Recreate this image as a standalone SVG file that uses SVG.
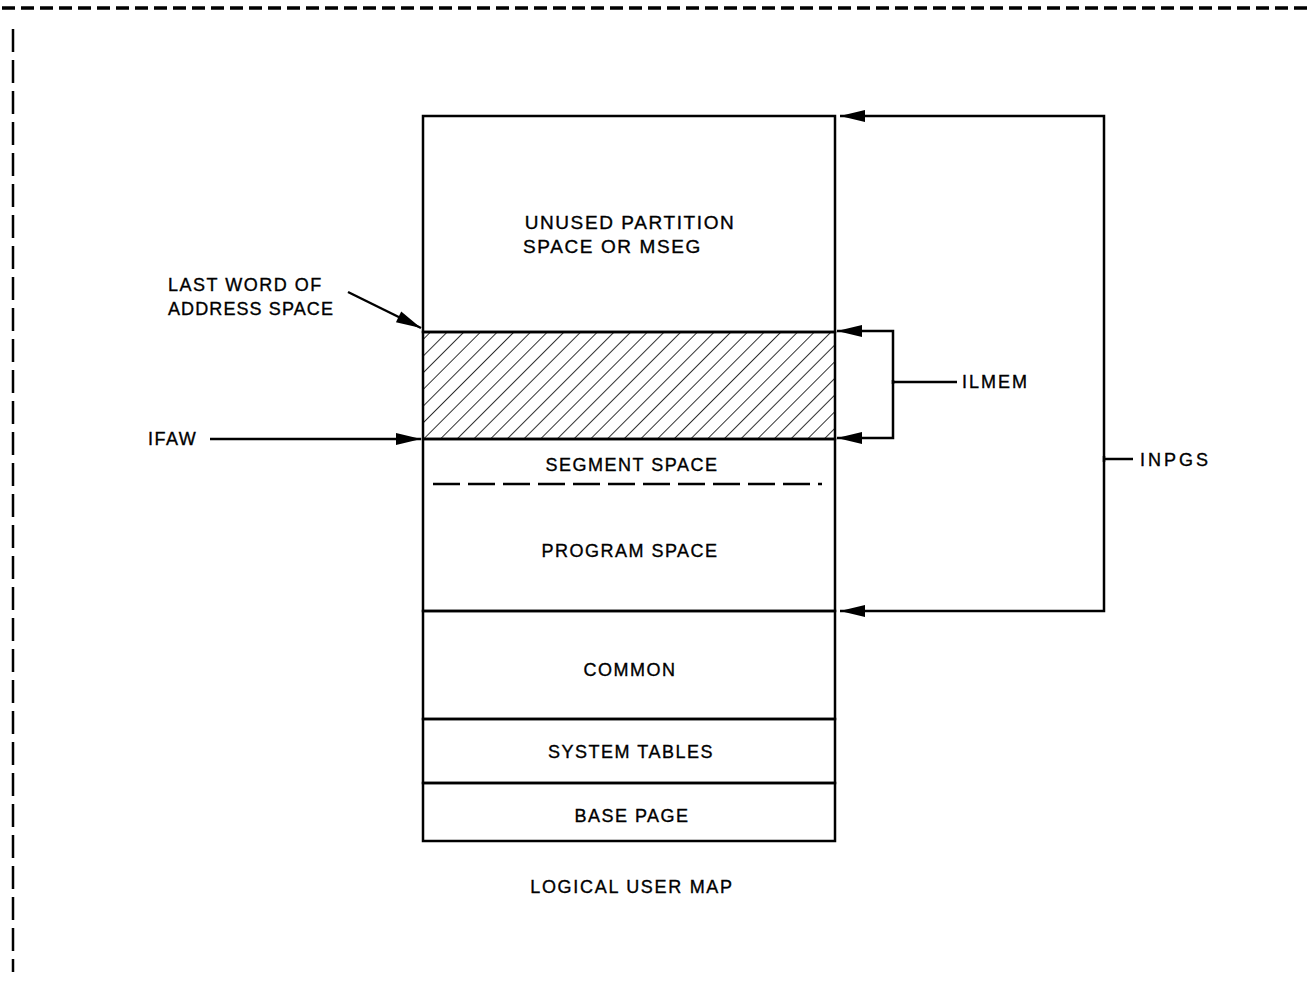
<svg xmlns="http://www.w3.org/2000/svg" width="1313" height="991" viewBox="0 0 1313 991">
<style>
  text { font-family: "Liberation Sans", Arial, sans-serif; font-size: 18px; fill: #000; stroke: #000; stroke-width: 0.35px; letter-spacing: 1.5px; }
  .c { text-anchor: middle; }
  .box { fill: none; stroke: #000; stroke-width: 2.5; }
  .ln { fill: none; stroke: #000; stroke-width: 2.5; }
  .arr { fill: none; stroke: #000; stroke-width: 2.5; marker-end: url(#ah); }
</style>
<defs>
  <marker id="ah" markerUnits="userSpaceOnUse" viewBox="-26 -7 28 14" markerWidth="28" markerHeight="14" refX="0" refY="0" orient="auto">
    <path d="M0,0 L-25,-6 L-25,6 Z" fill="#000"/>
  </marker>
  <pattern id="hatch" width="11.8" height="20" patternUnits="userSpaceOnUse" patternTransform="translate(423,439) rotate(45)">
    <line x1="0" y1="-5" x2="0" y2="25" stroke="#000" stroke-width="1.6"/>
  </pattern>
</defs>
<rect width="1313" height="991" fill="#fff"/>

<g id="frame">
  <line x1="2" y1="8" x2="1313" y2="8" stroke="#000" stroke-width="3.5" stroke-dasharray="13 6"/>
  <line x1="13" y1="29" x2="13" y2="972" stroke="#000" stroke-width="2.5" stroke-dasharray="23 8"/>
</g>

<g id="unused">
  <rect class="box" x="423" y="116" width="412" height="216"/>
  <text class="c" x="630" y="229" style="font-size:19px;letter-spacing:1.6px">UNUSED PARTITION</text>
  <text x="523" y="253" style="font-size:19px;letter-spacing:1.6px">SPACE OR MSEG</text>
</g>

<g id="hatched">
  <rect x="423" y="332" width="412" height="107" fill="url(#hatch)"/>
  <rect class="box" x="423" y="332" width="412" height="107"/>
</g>

<g id="segment-program">
  <rect class="box" x="423" y="439" width="412" height="172"/>
  <text class="c" x="632" y="471">SEGMENT SPACE</text>
  <line x1="433" y1="484" x2="822" y2="484" stroke="#000" stroke-width="2.5" stroke-dasharray="27 8"/>
  <text class="c" x="630" y="557">PROGRAM SPACE</text>
</g>

<g id="common">
  <rect class="box" x="423" y="611" width="412" height="108"/>
  <text class="c" x="630" y="676">COMMON</text>
</g>

<g id="system-tables">
  <rect class="box" x="423" y="719" width="412" height="64"/>
  <text class="c" x="631" y="758">SYSTEM TABLES</text>
</g>

<g id="base-page">
  <rect class="box" x="423" y="783" width="412" height="58"/>
  <text class="c" x="632" y="822">BASE PAGE</text>
</g>

<g id="title">
  <text class="c" x="632" y="893" style="letter-spacing:1.7px">LOGICAL USER MAP</text>
</g>

<g id="label-last-word">
  <text x="168" y="291">LAST WORD OF</text>
  <text x="168" y="315" style="letter-spacing:1.1px">ADDRESS SPACE</text>
</g>

<g id="label-ifaw">
  <text x="148" y="445">IFAW</text>
</g>

<g id="label-ilmem">
  <text x="962" y="388" style="letter-spacing:2px">ILMEM</text>
</g>

<g id="label-inpgs">
  <text x="1140" y="466" style="letter-spacing:3px">INPGS</text>
</g>

<g id="connectors">
  <path class="arr" d="M348,292 L421,328"/>
  <path class="arr" d="M210,439 H421"/>
  <path class="ln" d="M893,382 H957"/>
  <path class="arr" d="M893,384 V331 H837"/>
  <path class="arr" d="M893,380 V438 H837"/>
  <path class="ln" d="M1104,459 H1133"/>
  <path class="arr" d="M1104,462 V116 H840"/>
  <path class="arr" d="M1104,456 V611 H840"/>
</g>
</svg>
